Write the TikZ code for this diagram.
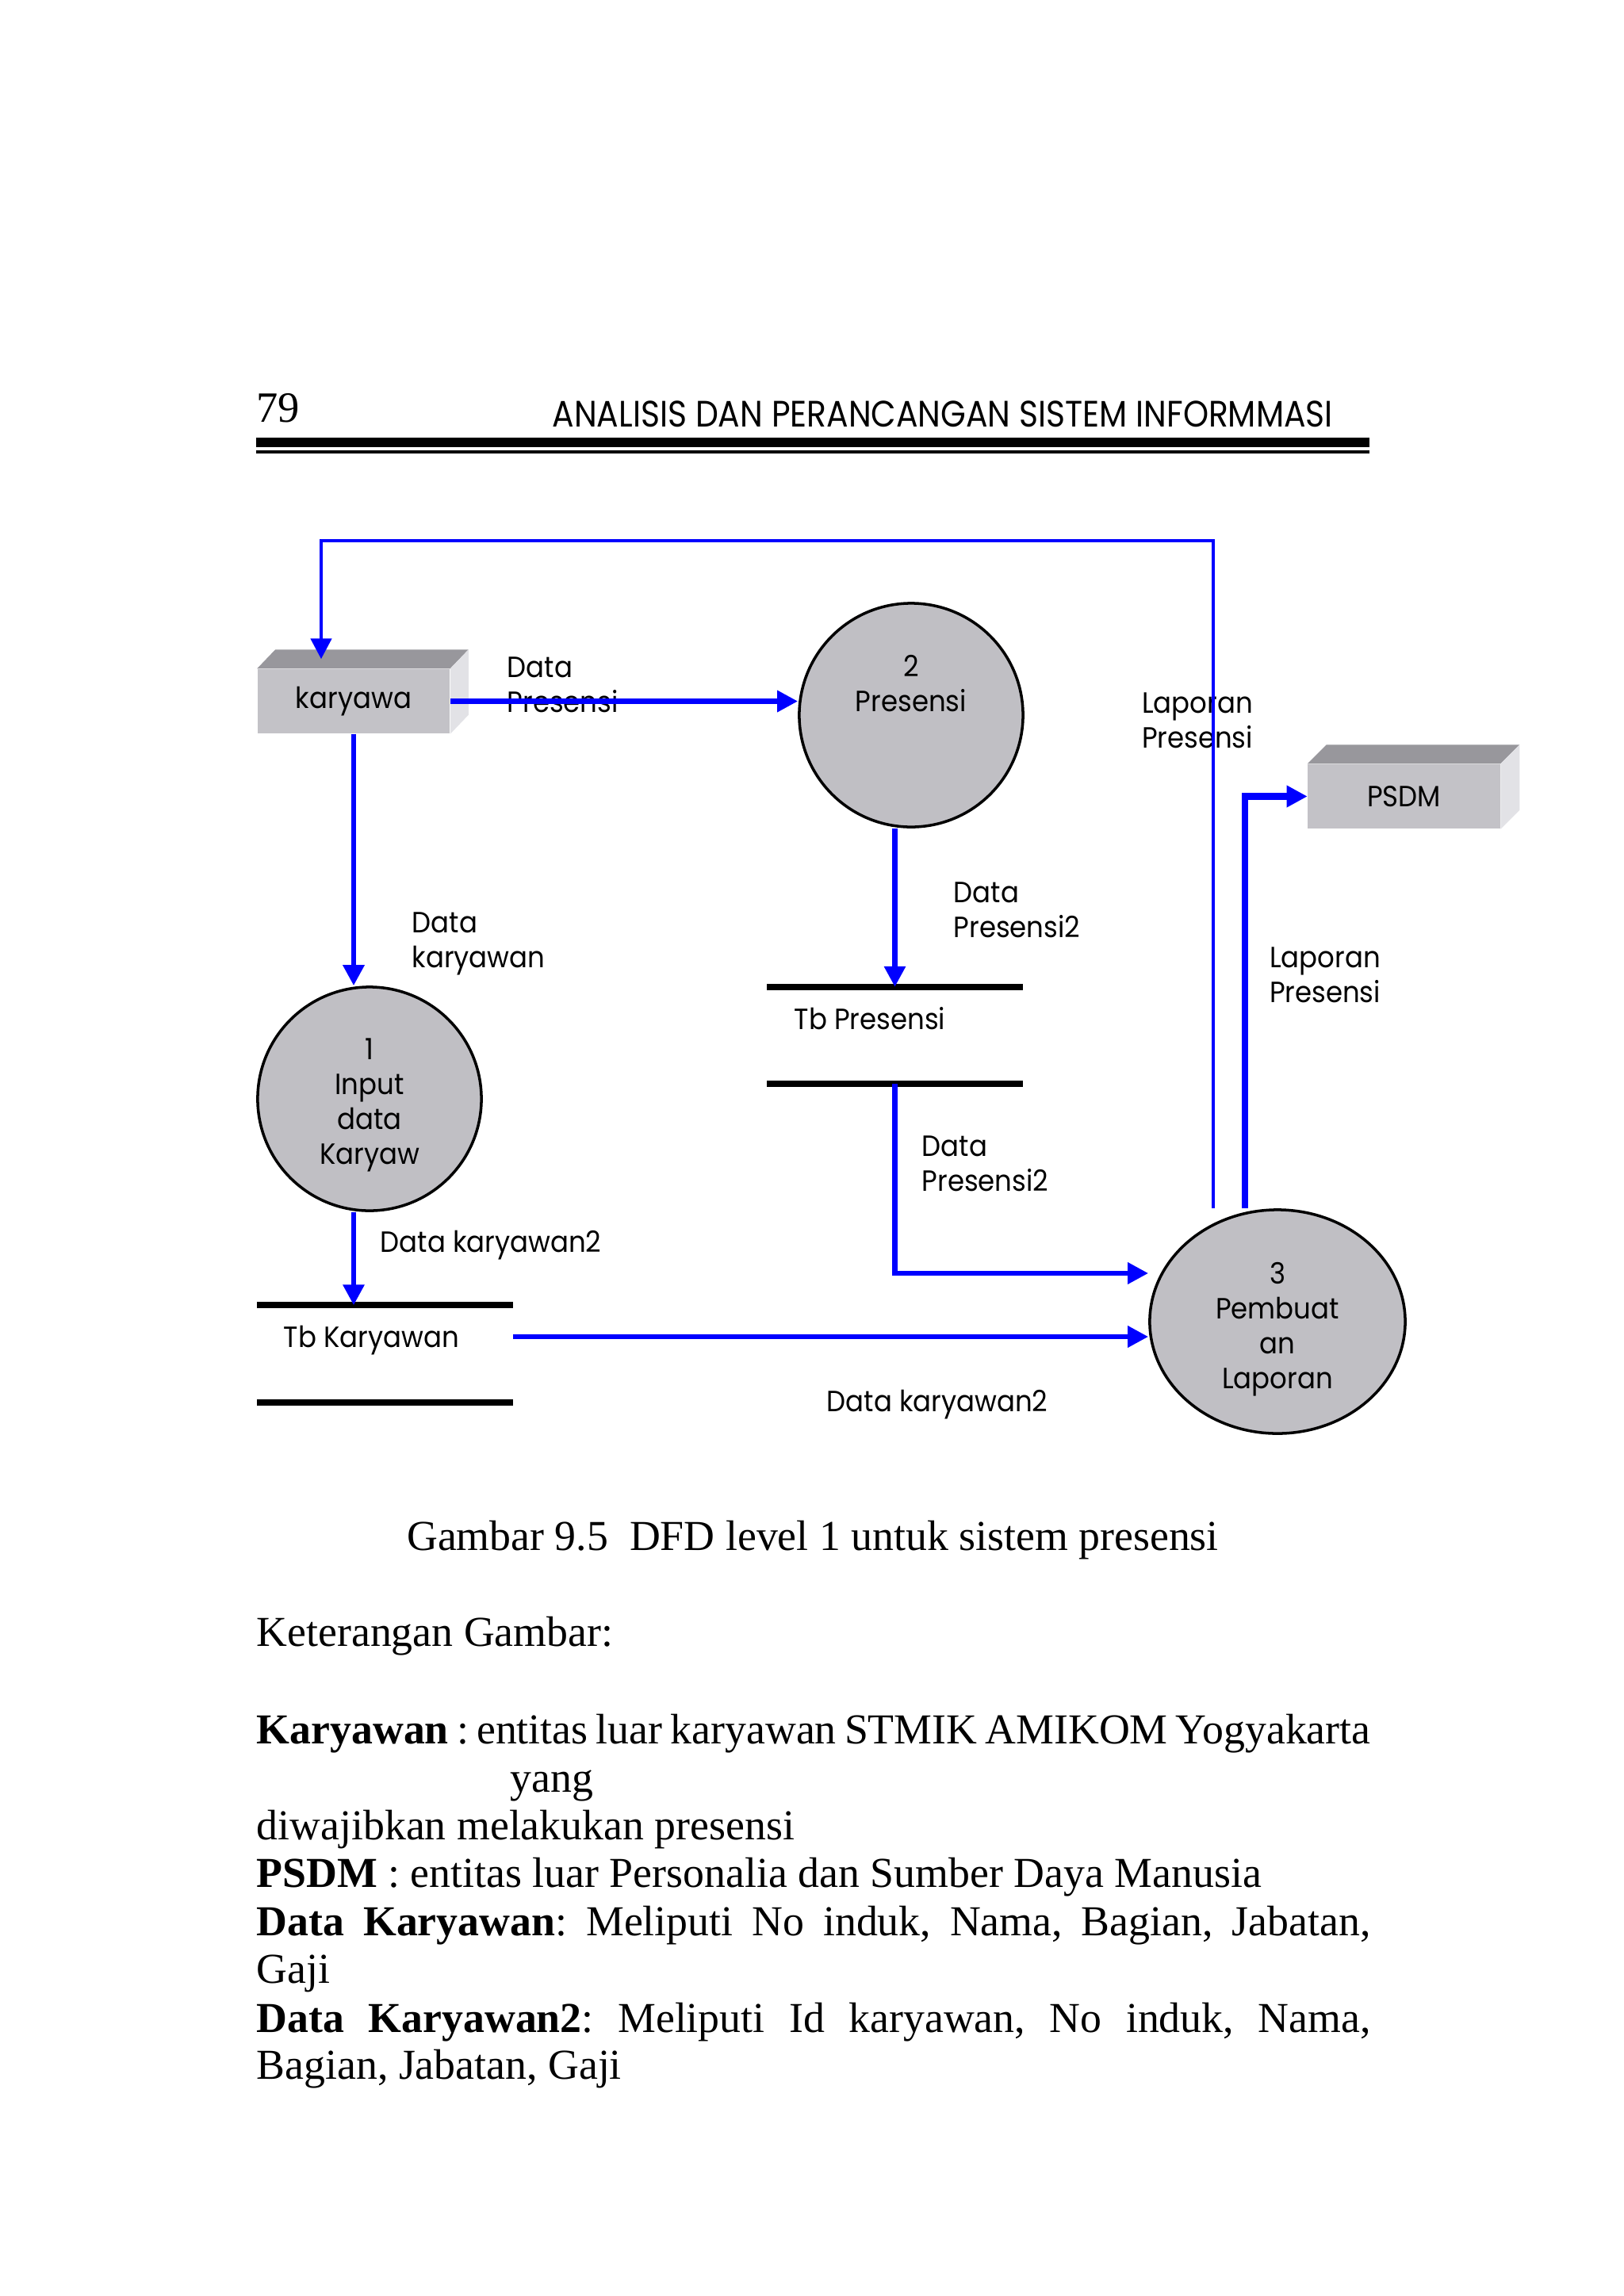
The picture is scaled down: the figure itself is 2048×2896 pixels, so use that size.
\documentclass[tikz,border=0pt]{standalone}
\usepackage{fontspec}
\usetikzlibrary{arrows.meta,shapes.geometric,calc}
\newfontfamily\poppins[FakeStretch=0.92]{Poppins}
\newfontfamily\hdrpoppins[FakeStretch=0.88]{Poppins}
\newfontfamily\serifbody{Liberation Serif}
\newcommand\diagfont{\poppins\fontsize{10.5}{12.5}\selectfont}
\newcommand\hdrfont{\hdrpoppins\fontsize{13.2}{15}\selectfont}
\newcommand\bodyfont{\serifbody\fontsize{15.3}{18}\selectfont\frenchspacing}
\definecolor{flowblue}{RGB}{0,0,255}
\definecolor{frontgray}{RGB}{195,194,199}
\definecolor{topgray}{RGB}{152,151,156}
\definecolor{sidegray}{RGB}{226,226,230}
\definecolor{circgray}{RGB}{192,191,196}
\tikzset{
  flow/.style={draw=flowblue, line width=1.8pt, -{Triangle[length=0.26cm,width=0.26cm]}},
  thinflow/.style={flow, line width=1.4pt},
  thickflow/.style={flow, line width=2.4pt},
  ent/.style={rectangle, fill=frontgray, minimum width=2.42cm, minimum height=0.81cm, inner sep=0, font=\diagfont},
  proc/.style={circle, draw=black, line width=1pt, fill=circgray, inner sep=0, minimum size=2.82cm},
  proctext/.style={font=\diagfont, align=center, inner sep=0},
  store/.style={rectangle, inner sep=0, minimum width=3.21cm, minimum height=1.21cm},
  storeline/.style={line width=2.3pt, black},
  lbl/.style={font=\diagfont, inner sep=0, align=left, anchor=west},
  body/.style={font=\bodyfont, inner sep=0, anchor=base west}
}
\begin{document}
\begin{tikzpicture}[x=0.01cm,y=-0.01cm]
\useasboundingbox[fill=white] (0,0) rectangle (2048,2896);

% header
\node[anchor=base west, inner sep=0, font=\serifbody\fontsize{15.5}{18}\selectfont] (pg) at (323,532) {79};
\node[anchor=base west, inner sep=0, font=\hdrfont] (hdr) at (696,538) {ANALISIS DAN PERANCANGAN SISTEM INFORMMASI};
\fill (323,552) rectangle (1727,564);
\fill (323,568) rectangle (1727,572);

% external entities
\node[ent] (kar) at (446,884.5) {karyawa};
\fill[topgray] (kar.north west) -- ([shift={(23,-24)}]kar.north west) -- ([shift={(23,-24)}]kar.north east) -- (kar.north east) -- cycle;
\fill[sidegray] (kar.north east) -- ([shift={(23,-24)}]kar.north east) -- ([shift={(23,-24)}]kar.south east) -- (kar.south east) -- cycle;

\node[ent] (psdm) at (1770.5,1004.5) {PSDM};
\fill[topgray] (psdm.north west) -- ([shift={(24,-24)}]psdm.north west) -- ([shift={(24,-24)}]psdm.north east) -- (psdm.north east) -- cycle;
\fill[sidegray] (psdm.north east) -- ([shift={(24,-24)}]psdm.north east) -- ([shift={(24,-24)}]psdm.south east) -- (psdm.south east) -- cycle;

% processes
\node[proc] (p1) at (466,1386) {};
\node[proctext] (p1t) at (466,1394) {1\\Input\\data\\Karyaw};
\node[proc] (p2) at (1149,902) {};
\node[proctext] (p2t) at (1149,862) {2\\Presensi};
\node[proc, ellipse, minimum width=3.22cm, minimum height=2.82cm] (p3) at (1611,1667) {};
\node[proctext] (p3t) at (1611,1677) {3\\Pembuat\\an\\Laporan};

% data stores
\node[store] (tbk) at (485.5,1707.5) {};
\draw[storeline] (tbk.north west) -- (tbk.north east);
\draw[storeline] (tbk.south west) -- (tbk.south east);
\node[store] (tbp) at (1128.5,1306) {};
\draw[storeline] (tbp.north west) -- (tbp.north east);
\draw[storeline] (tbp.south west) -- (tbp.south east);
\node[lbl] (tbkt) at (357,1691) {Tb Karyawan};
\node[lbl] (tbpt) at (1001,1285) {Tb Presensi};

% flow labels
\node[lbl] (l1) at (639,864) {Data\\Presensi};
\node[lbl] (l2) at (519,1190) {Data\\karyawan};
\node[lbl] (l3) at (1202,1148) {Data\\Presensi2};
\node[lbl] (l5) at (1162,1468) {Data\\Presensi2};
\node[lbl] (l6) at (479,1571) {Data karyawan2};
\node[lbl] (l8) at (1042,1772) {Data karyawan2};
\node[lbl, align=center, anchor=center] (l9) at (1510,909) {Laporan\\Presensi};
\node[lbl, align=center, anchor=center] (l10) at (1671,1230) {Laporan\\Presensi};

% connectors
\coordinate (loopS) at ([xshift=-0.81cm]p3.north);
\coordinate (loopTop) at (0,682);
\coordinate (karIn) at ([shift={(-41,-12)}]kar.north);
\draw[thinflow] (loopS) -- (loopS |- loopTop) -| (karIn);
\draw[flow] (kar.east) -- (kar.east -| p2.west);
\draw[flow] (kar.south) -- (kar.south |- p1.north);
\draw[flow] (kar.south |- p1.south) -- (kar.south |- tbk.north);
\coordinate (tbkOut) at ([yshift=0.215cm]tbk.east);
\draw[flow] (tbkOut) -- (tbkOut -| p3.west);
\draw[flow] (tbp.north |- p2.south) -- (tbp.north);
\draw[flow] (tbp.south) |- ([yshift=0.61cm]p3.west);
\coordinate (psdmS) at ([xshift=-0.41cm]p3.north);
\draw[thickflow] (psdmS) |- (psdm.west);

% caption and notes
\node[body, anchor=base] (cap) at (1025,1955) {Gambar 9.5\ \ DFD level 1 untuk sistem presensi};
\node[body] (ket) at (323,2076) {Keterangan Gambar:};
\node[body] (b1) at (323,2199) {\makebox[14.04cm][s]{\textbf{Karyawan} : entitas luar karyawan STMIK AMIKOM Yogyakarta}};
\node[body] (b2) at (643,2260) {yang};
\node[body] (b3) at (323,2320) {diwajibkan melakukan presensi};
\node[body] (b4) at (323,2380) {\textbf{PSDM} : entitas luar Personalia dan Sumber Daya Manusia};
\node[body] (b5) at (323,2441) {\makebox[14.04cm][s]{\textbf{Data Karyawan}: Meliputi No induk, Nama, Bagian, Jabatan,}};
\node[body] (b6) at (323,2501) {Gaji};
\node[body] (b7) at (323,2563) {\makebox[14.04cm][s]{\textbf{Data Karyawan2}: Meliputi Id karyawan, No induk, Nama,}};
\node[body] (b8) at (323,2622) {Bagian, Jabatan, Gaji};
\end{tikzpicture}
\end{document}
